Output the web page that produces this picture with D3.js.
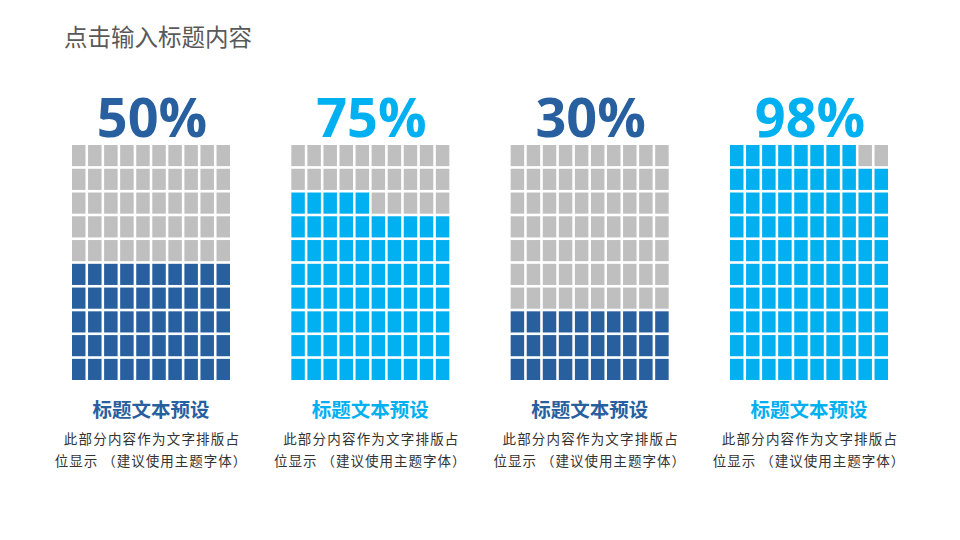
<!DOCTYPE html>
<html>
<head>
<meta charset="utf-8">
<script src="https://cdn.jsdelivr.net/npm/d3@7"></script>
<style>
  html, body { margin: 0; padding: 0; background: #fff; }
  svg { display: block; }
</style>
</head>
<body>
<svg id="chart" width="960" height="540"></svg>
<script>
const title = "点击输入标题内容";
const percents = [50, 75, 30, 98];
const labels = ["50%", "75%", "30%", "98%"];
const headings = ["标题文本预设", "标题文本预设", "标题文本预设", "标题文本预设"];
const bodyLine1 = ["此部分内容作为文字排版占", "此部分内容作为文字排版占", "此部分内容作为文字排版占", "此部分内容作为文字排版占"];
const bodyLine2 = ["位显示 （建议使用主题字体）", "位显示 （建议使用主题字体）", "位显示 （建议使用主题字体）", "位显示 （建议使用主题字体）"];
const colorKeys = ["dark", "light", "dark", "light"];

const palette = { dark: "#285f9f", light: "#00b0f0", empty: "#bfbfbf" };

const svg = d3.select("#chart");
const cjk = "'Noto Sans CJK SC', 'Noto Sans', sans-serif";

svg.append("text")
  .attr("x", 64).attr("y", 46)
  .attr("font-family", cjk)
  .attr("font-size", 23.5)
  .attr("fill", "#595959")
  .text(title);

// group centres
const groupX = d3.scalePoint().domain(d3.range(percents.length)).range([151, 809]);
const gridW = 158, gridH = 235, gridTop = 145;
const colScale = d3.scaleBand().domain(d3.range(10)).range([0, gridW]).paddingInner(0.16);
// rows from bottom: row 0 at the bottom
const rowScale = d3.scaleBand().domain(d3.range(10)).range([gridH, 0]).paddingInner(0.11);

const groups = svg.selectAll("g.group")
  .data(percents.map((p, i) => ({ p, i })))
  .join("g")
  .attr("class", "group")
  .attr("transform", d => `translate(${groupX(d.i)},0)`);

groups.append("text")
  .attr("x", 1).attr("y", 137)
  .attr("text-anchor", "middle")
  .attr("font-family", "'Open Sans', sans-serif")
  .attr("font-weight", "bold")
  .attr("font-size", 54)
  .attr("fill", d => palette[colorKeys[d.i]])
  .text(d => labels[d.i]);

const grid = groups.append("g")
  .attr("transform", `translate(${-gridW / 2},${gridTop})`);

grid.selectAll("rect")
  .data(d => d3.range(100).map(k => ({ k, p: d.p, key: colorKeys[d.i] })))
  .join("rect")
  .attr("x", c => colScale(c.k % 10))
  .attr("y", c => rowScale(Math.floor(c.k / 10)))
  .attr("width", colScale.bandwidth())
  .attr("height", rowScale.bandwidth())
  .attr("fill", c => c.k < c.p ? palette[c.key] : palette.empty);

groups.append("text")
  .attr("x", 0).attr("y", 417)
  .attr("text-anchor", "middle")
  .attr("font-family", cjk)
  .attr("font-weight", "bold")
  .attr("font-size", 19.5)
  .attr("fill", d => palette[colorKeys[d.i]])
  .text(d => headings[d.i]);

groups.append("text")
  .attr("x", 1).attr("y", 444)
  .attr("text-anchor", "middle")
  .attr("font-family", cjk)
  .attr("font-size", 13.5)
  .attr("letter-spacing", 1.2)
  .attr("fill", "#333333")
  .text(d => bodyLine1[d.i]);

groups.append("text")
  .attr("x", 0).attr("y", 466)
  .attr("text-anchor", "middle")
  .attr("font-family", cjk)
  .attr("font-size", 13.5)
  .attr("letter-spacing", 1)
  .attr("fill", "#333333")
  .text(d => bodyLine2[d.i]);
</script>
</body>
</html>
